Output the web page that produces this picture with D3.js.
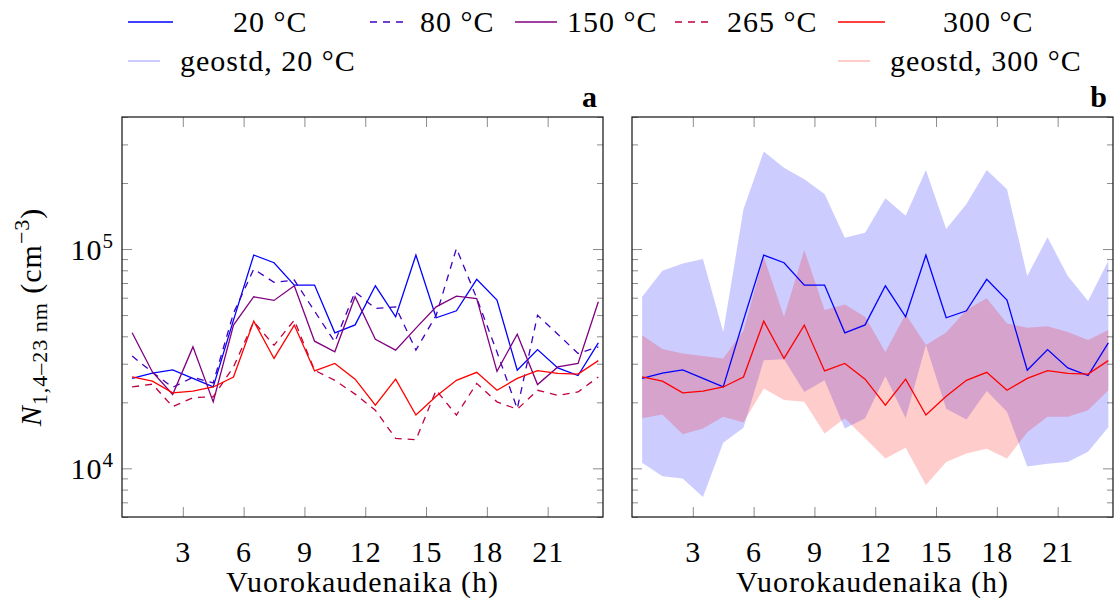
<html>
<head>
<script src="https://d3js.org/d3.v7.min.js"></script>
<style>
    body {
        margin: 0;
        background: white;
    }
    svg {
        display: block;
        font-family: 'Liberation Serif', 'Times New Roman', serif;
    }
    svg text {
        letter-spacing: 1px;
    }
    .tick line {
        stroke: #8c8c8c;
    }
    .frame {
        fill: none;
        stroke: #222;
        stroke-width: 1.3;
    }
</style>
</head>
<body>

<svg id='chart' width=1117 height=604></svg>

<script>

    // hour of day (bin centres)
    var hours = [0.5, 1.5, 2.5, 3.5, 4.5, 5.5, 6.5, 7.5, 8.5, 9.5, 10.5, 11.5,
                 12.5, 13.5, 14.5, 15.5, 16.5, 17.5, 18.5, 19.5, 20.5, 21.5, 22.5, 23.5];

    // N(1.4-23 nm), cm^-3
    var n20  = [25700, 27200, 28100, 25700, 23500, 47400, 93900, 86600, 68500, 68500, 41500, 45100,
                68000, 49100, 93900, 48600, 52300, 72700, 58500, 28000, 34800, 28700, 26500, 37300];
    var n80  = [32500, 27400, 23400, 26000, 24500, 51000, 81000, 70500, 72200, 52100, 37700, 63800,
                53600, 54500, 34600, 49900, 100700, 59700, 33900, 18700, 49900, 40900, 33400, 35800];
    var n150 = [41500, 27500, 21700, 35800, 20100, 45000, 60600, 58300, 68000, 38000, 34000, 60600,
                38800, 34600, 43600, 54500, 61000, 59500, 27700, 40900, 24100, 29000, 30100, 57500];
    var n265 = [23500, 24200, 19100, 21000, 21200, 29000, 46600, 36400, 47400, 28000, 25200, 21800,
                18400, 13700, 13500, 22700, 17500, 24400, 20100, 18600, 22700, 21500, 22300, 26100];
    var n300 = [26100, 25000, 22100, 22500, 23500, 26100, 46900, 31700, 45000, 27800, 30100, 25500,
                19400, 25500, 17500, 21300, 25200, 27400, 22700, 25700, 27900, 27100, 26900, 31000];

    // geometric std ranges
    var geo20Hi  = [60600, 79600, 86000, 90000, 41900, 151800, 278100, 235000, 208100, 178300, 112600, 118700,
                    170400, 141900, 229500, 123400, 160500, 229500, 187400, 75300, 113100, 75300, 57900, 88400];
    var geo20Lo  = [10600, 9200, 9000, 7400, 13100, 15300, 31100, 31400, 22300, 25200, 15200, 16900,
                    26300, 16900, 36500, 18700, 16700, 22500, 18100, 10200, 10500, 10700, 11900, 15400];
    var geo300Hi = [40500, 35000, 33400, 32500, 31700, 42400, 92200, 49100, 99000, 52700, 55800, 49100,
                    33900, 50500, 36500, 41600, 52700, 59700, 45800, 43800, 44500, 41900, 38500, 42700];
    var geo300Lo = [16900, 17600, 14300, 15200, 17200, 16200, 23100, 20500, 20100, 14400, 16900, 13700,
                    11100, 12400, 8400, 10700, 11700, 12300, 11100, 14600, 17200, 17200, 18400, 22700];

    var xTicks = [3, 6, 9, 12, 15, 18, 21];
    var yMajor = [1e4, 1e5];
    var yMinor = [6000, 7000, 8000, 9000, 20000, 30000, 40000, 50000, 60000, 70000, 80000, 90000,
                  200000, 300000, 400000];

    var legendLabels = ['20 °C', '80 °C', '150 °C', '265 °C', '300 °C', 'geostd, 20 °C', 'geostd, 300 °C'];
    var xLabel = 'Vuorokaudenaika (h)';

    var svg = d3.select('#chart');

    var plotW = 481,
        plotH = 400,
        plotTop = 117,
        fontSize = 30;

    var x = d3.scaleLinear()
            .domain([0, 23.73])
            .range([0, plotW]);

    var y = d3.scaleLog()
            .domain([6000, 400000])
            .range([plotH, 0]);

    var lineSeries = [
        { values: n20,  color: '#0000ff', dash: null },
        { values: n80,  color: '#4000bf', dash: '7,6' },
        { values: n150, color: '#800080', dash: null },
        { values: n265, color: '#bf0040', dash: '7,6' },
        { values: n300, color: '#ff0000', dash: null }
    ];

    var line = d3.line()
        .x(function(d, i) { return x(hours[i]); })
        .y(function(d) { return y(d); });

    var panelA = drawPanel(122, 'a', true);
    var panelB = drawPanel(632, 'b', false);

    // panel a: all temperatures
    lineSeries.forEach(function(s) {
        panelA.plot.append('path')
            .datum(s.values)
            .attr('d', line)
            .attr('fill', 'none')
            .attr('stroke', s.color)
            .attr('stroke-width', 1.3)
            .attr('stroke-dasharray', s.dash);
    });

    // panel b: 20 and 300 with geostd bands
    var band = function(lo, hi) {
        return d3.area()
            .x(function(d, i) { return x(hours[i]); })
            .y0(function(d, i) { return y(lo[i]); })
            .y1(function(d, i) { return y(hi[i]); })(hours);
    };

    panelB.plot.append('path')
        .attr('d', band(geo20Lo, geo20Hi))
        .attr('fill', '#0000ff')
        .attr('fill-opacity', 0.2);

    panelB.plot.append('path')
        .attr('d', band(geo300Lo, geo300Hi))
        .attr('fill', '#ff0000')
        .attr('fill-opacity', 0.2);

    [lineSeries[0], lineSeries[4]].forEach(function(s) {
        panelB.plot.append('path')
            .datum(s.values)
            .attr('d', line)
            .attr('fill', 'none')
            .attr('stroke', s.color)
            .attr('stroke-width', 1.3);
    });

    panelA.g.select('.frame').raise();
    panelB.g.select('.frame').raise();

    drawYLabel();
    drawLegend();

    function drawPanel(left, name, showYLabels) {

        var g = svg.append('g')
            .attr('transform', 'translate(' + left + ',' + plotTop + ')');

        // ticks, all pointing inwards, on all four sides
        g.append('g').call(d3.axisLeft(y).tickValues(yMinor).tickSize(-6).tickFormat(''));
        g.append('g').call(d3.axisLeft(y).tickValues(yMajor).tickSize(-10).tickFormat(''));
        g.append('g').attr('transform', 'translate(' + plotW + ',0)')
            .call(d3.axisRight(y).tickValues(yMinor).tickSize(-6).tickFormat(''));
        g.append('g').attr('transform', 'translate(' + plotW + ',0)')
            .call(d3.axisRight(y).tickValues(yMajor).tickSize(-10).tickFormat(''));
        g.append('g').call(d3.axisTop(x).tickValues(xTicks).tickSize(-10).tickFormat(''));
        var xAxis = g.append('g').attr('transform', 'translate(0,' + plotH + ')')
            .call(d3.axisBottom(x).tickValues(xTicks).tickSize(-10).tickPadding(24));

        g.selectAll('.domain').remove();

        xAxis.attr('font-family', null)
            .attr('font-size', null);

        xAxis.selectAll('text')
            .attr('font-size', fontSize)
            .attr('fill', '#000');

        if (showYLabels) {
            g.selectAll('.ylab')
                .data(yMajor)
              .enter()
                .append('text')
                .attr('class', 'ylab')
                .attr('x', -8)
                .attr('y', function(d) { return y(d) + 11; })
                .attr('text-anchor', 'end')
                .attr('font-size', fontSize)
                .each(function(d) {
                    var t = d3.select(this);
                    t.append('tspan').text('10');
                    t.append('tspan')
                        .attr('dy', -12)
                        .attr('font-size', 21)
                        .text(Math.round(Math.log10(d)));
                });
        }

        var plot = g.append('g');

        g.append('rect')
            .attr('class', 'frame')
            .attr('width', plotW)
            .attr('height', plotH);

        g.append('text')
            .attr('x', plotW / 2)
            .attr('y', plotH + 75)
            .attr('text-anchor', 'middle')
            .attr('font-size', fontSize)
            .text(xLabel);

        g.append('text')
            .attr('x', plotW - 5)
            .attr('y', -10)
            .attr('text-anchor', 'end')
            .attr('font-size', fontSize)
            .attr('font-weight', 'bold')
            .text(name);

        return { g: g, plot: plot };
    }

    function drawYLabel() {
        var t = svg.append('text')
            .attr('transform', 'translate(41,317) rotate(-90)')
            .attr('text-anchor', 'middle')
            .attr('font-size', fontSize);

        t.append('tspan').attr('font-style', 'italic').text('N');
        t.append('tspan').attr('dy', 6).attr('font-size', 22).text('1,4–23 nm');
        t.append('tspan').attr('dy', -6).text(' (cm');
        t.append('tspan').attr('dy', -12).attr('font-size', 22).text('−3');
        t.append('tspan').attr('dy', 12).text(')');
    }

    function drawLegend() {
        // sample start, sample end, text start, row
        var layout = [
            [128, 173, 233, 0], [370, 407, 420, 0], [515, 557, 567, 0], [675, 712, 727, 0],
            [838, 885, 943, 0], [128, 160, 180, 1], [838, 870, 890, 1]
        ];
        var styles = lineSeries.map(function(s) {
            return { color: s.color, dash: s.dash, width: 1.3 };
        }).concat([
            { color: '#ccccff', dash: null, width: 2 },
            { color: '#ffcccc', dash: null, width: 2 }
        ]);

        var rowY = [22, 61];

        var items = svg.selectAll('.legend-item')
            .data(legendLabels)
          .enter()
            .append('g')
            .attr('class', 'legend-item');

        items.append('line')
            .attr('x1', function(d, i) { return layout[i][0]; })
            .attr('x2', function(d, i) { return layout[i][1]; })
            .attr('y1', function(d, i) { return rowY[layout[i][3]]; })
            .attr('y2', function(d, i) { return rowY[layout[i][3]]; })
            .attr('stroke', function(d, i) { return styles[i].color; })
            .attr('stroke-width', function(d, i) { return styles[i].width; })
            .attr('stroke-dasharray', function(d, i) { return styles[i].dash; });

        items.append('text')
            .attr('x', function(d, i) { return layout[i][2]; })
            .attr('y', function(d, i) { return rowY[layout[i][3]] + 10; })
            .attr('font-size', fontSize)
            .text(function(d) { return d; });
    }

</script>
</body>
</html>
